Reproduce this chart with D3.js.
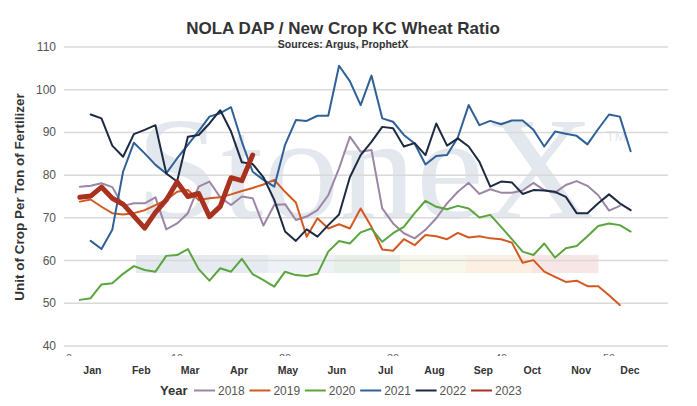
<!DOCTYPE html>
<html>
<head>
<meta charset="utf-8">
<script src="https://cdn.jsdelivr.net/npm/d3@7"></script>
<style>
  body { margin: 0; background: #fff; }
  svg { display: block; font-family: "Liberation Sans", Arial, sans-serif; }
</style>
</head>
<body>
<script>

// chart data: weekly ratio per year
var months = ["Jan", "Feb", "Mar", "Apr", "May", "Jun", "Jul", "Aug", "Sep", "Oct", "Nov", "Dec"];
var years = ["2018", "2019", "2020", "2021", "2022", "2023"];
var firstWeek = [1, 1, 1, 2, 2, 1];
var yTicks = [40, 50, 60, 70, 80, 90, 100, 110];
var weekTicks = [0, 10, 20, 30, 40, 50];

var r2018 = [77.3, 77.5, 78.1, 77.2, 72.8, 73.4, 73.4, 74.8, 67.3, 68.7, 71.1, 77.3, 78.5, 74.8,
  73.0, 75.0, 74.6, 68.2, 73.0, 73.2, 69.5, 70.3, 71.8, 75.3, 81.6, 89.0, 85.5, 85.9, 72.2,
  68.7, 66.4, 65.2, 67.2, 69.9, 73.4, 76.1, 78.2, 75.6, 76.7, 75.9, 75.9, 76.4, 78.2, 76.5,
  75.9, 77.7, 78.6, 77.5, 75.3, 71.7, 72.8];
var r2019 = [73.8, 74.3, 72.6, 71.1, 70.8, 71.1, 71.8, 73.0, 74.2, 76.1, 76.5, 74.2, 74.6, 74.8,
  75.5, 76.3, 77.0, 77.8, 78.9, 76.1, 73.6, 65.6, 69.9, 67.5, 68.5, 67.5, 72.2, 67.9, 62.6,
  62.3, 65.0, 63.6, 66.0, 65.7, 65.0, 66.5, 65.4, 65.7, 65.2, 65.0, 64.2, 59.5, 60.1, 57.4,
  56.2, 55.0, 55.3, 54.0, 54.0, 51.9, 49.6];
var r2020 = [50.8, 51.2, 54.4, 54.7, 56.9, 58.7, 57.8, 57.4, 61.1, 61.3, 62.7, 58.0, 55.3, 58.2,
  57.4, 60.4, 56.8, 55.4, 53.9, 57.4, 56.6, 56.4, 56.9, 62.1, 64.6, 64.0, 66.6, 67.5, 64.4,
  66.4, 67.9, 71.1, 74.0, 72.6, 72.0, 72.8, 72.2, 70.1, 70.7, 67.9, 65.0, 62.1, 61.3, 64.0,
  60.7, 62.9, 63.4, 65.7, 68.1, 68.7, 68.3, 66.8];
var r2021 = [64.6, 62.7, 67.2, 80.8, 87.6, 85.1, 82.4, 80.4, 83.9, 87.1, 90.3, 93.7, 94.5,
  95.9, 87.8, 80.8, 78.9, 77.3, 87.1, 92.9, 92.7, 93.9, 93.9, 105.6, 102.0, 96.4, 103.3, 93.3,
  92.5, 89.4, 87.4, 82.5, 84.5, 84.7, 88.8, 96.4, 91.7, 92.7, 91.9, 92.8, 92.8, 90.6, 86.7,
  90.2, 89.7, 89.2, 87.2, 90.8, 94.2, 93.7, 85.6];
var r2022 = [94.2, 93.3, 86.9, 84.3, 89.6, 90.6, 91.7, 80.4, 78.5, 89.0, 89.4, 92.1, 95.2,
  90.2, 83.0, 82.6, 79.5, 74.2, 66.8, 64.6, 67.3, 65.6, 68.3, 70.8, 79.5, 84.7, 87.8, 91.3,
  91.0, 86.7, 87.5, 84.7, 92.1, 86.9, 88.6, 86.7, 83.1, 77.3, 78.5, 78.3, 75.6, 76.5, 76.4,
  76.1, 74.9, 71.1, 71.1, 73.4, 75.5, 73.4, 71.8];
var r2023 = [74.8, 75.1, 77.2, 74.6, 73.2, 70.4, 67.6, 71.3, 74.2, 78.4, 75.0, 75.7, 70.3, 72.7,
  79.4, 78.7, 84.7];

var seriesValues = [r2018, r2019, r2020, r2021, r2022, r2023];

// styles
var colors = ["#9c86a6", "#d25a20", "#5ba53f", "#2f6096", "#1c2b42", "#a8321f"];
var widths = [2, 2, 2, 2, 2, 5];
var bandColors = ["#e5e9f0", "#e6eaf1", "#eef2f6", "#e6efe8", "#f8f8ea", "#fdf0e3", "#f8e5e5"];

var W = 697, H = 406;
var plot = { left: 64, right: 668, top: 47, bottom: 346 };

var svg = d3.select("body").append("svg")
  .attr("width", W)
  .attr("height", H);

svg.append("rect").attr("width", W).attr("height", H).attr("fill", "#fff");

var x = d3.scaleLinear().domain([-0.47, 55.46]).range([plot.left, plot.right]);
var y = d3.scaleLinear().domain([40, 110]).range([plot.bottom, plot.top]);
var monthX = d3.scalePoint().domain(months).range([92.4, 630]);

// watermark (logo) behind the plot
var wm = svg.append("g").attr("class", "watermark");
var band = d3.scaleBand().domain(d3.range(bandColors.length)).range([136, 598]);
wm.selectAll("rect")
  .data(bandColors)
  .enter()
  .append("rect")
    .attr("x", function(d, i) { return band(i); })
    .attr("width", band.bandwidth() + 0.5)
    .attr("y", 255)
    .attr("height", 18)
    .attr("fill", function(d) { return d; });

wm.append("text")
  .attr("x", 136)
  .attr("y", 218)
  .attr("textLength", 458)
  .attr("lengthAdjust", "spacingAndGlyphs")
  .style("font-family", "'Liberation Serif', 'Times New Roman', serif")
  .style("font-size", "146px")
  .attr("fill", "#e3e7ee")
  .text("StoneX");

wm.append("text")
  .attr("x", 606)
  .attr("y", 141)
  .style("font-size", "14px")
  .attr("fill", "#e3e7ee")
  .text("TM");

// gridlines + y labels
var grid = svg.append("g");
grid.selectAll("line")
  .data(yTicks)
  .enter()
  .append("line")
    .attr("x1", plot.left)
    .attr("x2", plot.right)
    .attr("y1", function(d) { return y(d); })
    .attr("y2", function(d) { return y(d); })
    .attr("stroke", "#d9d9d9")
    .attr("stroke-width", 1.5);

grid.selectAll("text")
  .data(yTicks)
  .enter()
  .append("text")
    .attr("x", 56)
    .attr("y", function(d) { return y(d) + 4; })
    .attr("text-anchor", "end")
    .style("font-size", "12px")
    .attr("fill", "#555")
    .text(function(d) { return d; });

// week tick labels, mostly hidden below the axis
svg.append("clipPath").attr("id", "weekclip")
  .append("rect").attr("x", 0).attr("y", 350).attr("width", W).attr("height", 6);

svg.append("g")
  .attr("clip-path", "url(#weekclip)")
  .selectAll("text")
  .data(weekTicks)
  .enter()
  .append("text")
    .attr("x", function(d) { return x(d); })
    .attr("y", 362)
    .attr("text-anchor", "middle")
    .style("font-size", "11px")
    .attr("fill", "#666")
    .text(function(d) { return d; });

// month labels
svg.append("g")
  .selectAll("text")
  .data(months)
  .enter()
  .append("text")
    .attr("x", function(d) { return monthX(d); })
    .attr("y", 374)
    .attr("text-anchor", "middle")
    .style("font-size", "10.5px")
    .style("font-weight", "bold")
    .attr("fill", "#333")
    .text(function(d) { return d; });

// lines
var line = d3.line()
  .curve(d3.curveLinear)
  .x(function(d) { return x(d.w); })
  .y(function(d) { return y(d.v); });

var series = years.map(function(yr, i) {
  return {
    year: yr,
    points: seriesValues[i].map(function(v, j) { return { w: firstWeek[i] + j, v: v }; })
  };
});

svg.append("g")
  .selectAll("path")
  .data(series)
  .enter()
  .append("path")
    .attr("d", function(d) { return line(d.points); })
    .attr("fill", "none")
    .attr("stroke", function(d, i) { return colors[i]; })
    .attr("stroke-width", function(d, i) { return widths[i]; })
    .attr("stroke-linejoin", "round")
    .attr("stroke-linecap", "round");

// titles
svg.append("text")
  .attr("x", 343)
  .attr("y", 34)
  .attr("text-anchor", "middle")
  .style("font-size", "17px")
  .style("font-weight", "bold")
  .attr("fill", "#333")
  .text("NOLA DAP / New Crop KC Wheat Ratio");

svg.append("text")
  .attr("x", 343)
  .attr("y", 48)
  .attr("text-anchor", "middle")
  .style("font-size", "10.5px")
  .style("font-weight", "bold")
  .attr("fill", "#333")
  .text("Sources: Argus, ProphetX");

svg.append("text")
  .attr("transform", "translate(24,197) rotate(-90)")
  .attr("text-anchor", "middle")
  .style("font-size", "13.5px")
  .style("font-weight", "bold")
  .attr("fill", "#333")
  .text("Unit of Crop Per Ton of Fertilizer");

// legend
var legend = svg.append("g");
legend.append("text")
  .attr("x", 160)
  .attr("y", 395)
  .style("font-size", "13px")
  .style("font-weight", "bold")
  .attr("fill", "#333")
  .text("Year");

var item = legend.selectAll("g.item")
  .data(years)
  .enter()
  .append("g")
    .attr("class", "item")
    .attr("transform", function(d, i) { return "translate(" + (194 + i * 55.4) + ",0)"; });

item.append("line")
  .attr("x1", 0).attr("x2", 21)
  .attr("y1", 390.5).attr("y2", 390.5)
  .attr("stroke", function(d, i) { return colors[i]; })
  .attr("stroke-width", 2);

item.append("text")
  .attr("x", 24)
  .attr("y", 395)
  .style("font-size", "12px")
  .attr("fill", "#555")
  .text(function(d) { return d; });

</script>
</body>
</html>
